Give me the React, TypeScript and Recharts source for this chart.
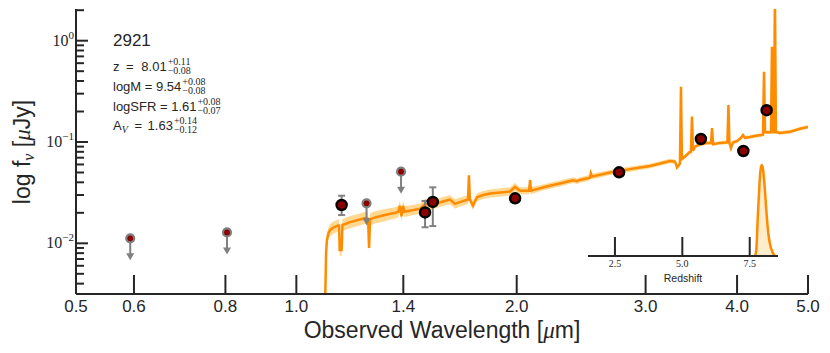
import React, { useLayoutEffect, useRef, useState } from 'react';
import {
    ComposedChart,
    AreaChart,
    Area,
    Line,
    Scatter,
    ErrorBar,
    XAxis,
    YAxis,
} from 'recharts';

// axis ticks
const xTicks = [0.5, 0.6, 0.8, 1.0, 1.4, 2.0, 3.0, 4.0, 5.0];
const xTickLabels = ['0.5', '0.6', '0.8', '1.0', '1.4', '2.0', '3.0', '4.0', '5.0'];
const yTicks = [
    0.004, 0.005, 0.006, 0.007, 0.008, 0.009, 0.01,
    0.02, 0.03, 0.04, 0.05, 0.06, 0.07, 0.08, 0.09, 0.1,
    0.2, 0.3, 0.4, 0.5, 0.6, 0.7, 0.8, 0.9, 1, 2,
];
const zTicks = [2.5, 5.0, 7.5];
const zTickLabels = ['2.5', '5.0', '7.5'];

// best-fit model: [wavelength um, flux uJy, 1-sigma spread in dex]
const sedModel: [number, number, number][] = [
    [1.094, 0.002, 0.06], [1.098, 0.008, 0.06], [1.101, 0.0108, 0.06],
    [1.106, 0.0125, 0.06], [1.112, 0.0135, 0.06], [1.122, 0.0142, 0.06],
    [1.140, 0.0150, 0.06], [1.144, 0.0150, 0.06], [1.146, 0.0086, 0.06],
    [1.153, 0.0086, 0.06], [1.156, 0.0152, 0.06], [1.166, 0.0155, 0.06],
    [1.184, 0.0162, 0.06], [1.214, 0.0170, 0.06], [1.241, 0.0178, 0.06],
    [1.253, 0.0175, 0.06], [1.257, 0.0090, 0.06], [1.261, 0.0172, 0.06],
    [1.281, 0.0180, 0.06], [1.321, 0.0190, 0.06], [1.364, 0.0200, 0.055],
    [1.378, 0.0205, 0.055], [1.385, 0.0235, 0.055], [1.392, 0.0185, 0.055],
    [1.399, 0.0235, 0.055], [1.405, 0.0205, 0.055], [1.430, 0.0210, 0.05],
    [1.476, 0.0220, 0.05], [1.499, 0.0245, 0.05], [1.523, 0.0235, 0.045],
    [1.561, 0.0250, 0.045], [1.596, 0.0262, 0.045], [1.621, 0.0270, 0.045],
    [1.647, 0.0245, 0.045], [1.673, 0.0255, 0.045], [1.700, 0.0265, 0.045],
    [1.716, 0.0270, 0.045], [1.721, 0.0470, 0.045], [1.726, 0.0270, 0.045],
    [1.743, 0.0236, 0.045], [1.765, 0.0285, 0.04], [1.799, 0.0300, 0.04],
    [1.839, 0.0310, 0.04], [1.916, 0.0320, 0.04], [1.958, 0.0325, 0.04],
    [1.989, 0.0360, 0.04], [2.021, 0.0330, 0.035], [2.053, 0.0330, 0.035],
    [2.079, 0.0330, 0.035], [2.086, 0.0420, 0.035], [2.092, 0.0330, 0.035],
    [2.105, 0.0335, 0.035], [2.152, 0.0350, 0.03], [2.220, 0.0370, 0.03],
    [2.291, 0.0390, 0.03], [2.388, 0.0420, 0.028], [2.418, 0.0410, 0.028],
    [2.441, 0.0422, 0.028], [2.519, 0.0445, 0.028], [2.525, 0.0490, 0.028],
    [2.534, 0.0455, 0.028], [2.682, 0.0500, 0.025], [2.856, 0.0540, 0.025],
    [3.042, 0.0580, 0.022], [3.239, 0.0650, 0.022], [3.291, 0.0640, 0.022],
    [3.311, 0.0560, 0.022], [3.342, 0.0610, 0.022], [3.353, 0.3500, 0.022],
    [3.363, 0.0680, 0.022], [3.396, 0.0720, 0.02], [3.450, 0.0800, 0.02],
    [3.460, 0.0800, 0.02], [3.471, 0.1780, 0.02], [3.482, 0.0820, 0.02],
    [3.505, 0.0900, 0.018], [3.561, 0.0950, 0.018], [3.628, 0.0975, 0.018],
    [3.685, 0.0980, 0.018], [3.697, 0.1370, 0.018], [3.709, 0.0950, 0.018],
    [3.791, 0.0980, 0.018], [3.880, 0.0990, 0.018], [3.893, 0.2320, 0.018],
    [3.905, 0.0980, 0.018], [3.924, 0.0870, 0.018], [3.949, 0.0990, 0.018],
    [3.999, 0.1020, 0.018], [4.050, 0.1100, 0.018], [4.075, 0.1170, 0.018],
    [4.100, 0.1100, 0.018], [4.165, 0.1120, 0.018], [4.246, 0.1150, 0.018],
    [4.313, 0.1170, 0.018], [4.340, 0.1180, 0.018], [4.354, 0.4940, 0.018],
    [4.368, 0.1250, 0.018], [4.395, 0.1250, 0.018], [4.451, 0.1250, 0.018],
    [4.464, 0.8730, 0.018], [4.478, 0.1250, 0.018], [4.492, 0.1250, 0.018],
    [4.506, 3.0, 0.018], [4.520, 0.1250, 0.018], [4.534, 0.1250, 0.018],
    [4.577, 0.1230, 0.018], [4.724, 0.1260, 0.018], [4.876, 0.1350, 0.018],
    [5.000, 0.1410, 0.018],
];

// photometry, detections
const detWave = [1.153, 1.499, 1.536, 1.99, 2.76, 3.57, 4.08, 4.39];
const detFlux = [0.0239, 0.0202, 0.0256, 0.0278, 0.0502, 0.107, 0.0815, 0.206];
const detErrLo = [0.0049, 0.0058, 0.0108, 0.0015, 0.002, 0.003, 0.003, 0.006];
const detErrHi = [0.0056, 0.006, 0.0101, 0.0015, 0.002, 0.003, 0.003, 0.006];

// photometry, upper limits
const limWave = [0.593, 0.804, 1.247, 1.39];
const limFlux = [0.0112, 0.0128, 0.0248, 0.0509];

// redshift posterior (peak normalised)
const pdfZ = [7.70, 7.745, 7.80, 7.845, 7.89, 7.94, 7.99, 8.04, 8.09, 8.14, 8.19, 8.26, 8.34, 8.44];
const pdfP = [0, 0.066, 0.43, 0.69, 0.91, 1.0, 0.96, 0.82, 0.615, 0.41, 0.25, 0.12, 0.047, 0];

const INK = '#262626';
const ORANGE = '#ff8c00';
const SANS = '"Liberation Sans", Arial, sans-serif';
const SERIF = '"Liberation Serif", "DejaVu Serif", serif';

const sedData = sedModel.map(([wave, flux, s]) => ({
    wave,
    flux,
    band: [flux / Math.pow(10, s), flux * Math.pow(10, s)],
}));
const detData = detWave.map((wave, i) => ({
    wave,
    flux: detFlux[i],
    err: [detErrLo[i], detErrHi[i]],
}));
const limData = limWave.map((wave, i) => ({ wave, flux: limFlux[i] }));
const pdfData = pdfZ.map((z, i) => ({ z, p: pdfP[i] }));

const isDecade = (v: number) => Math.abs(Math.log10(v) - Math.round(Math.log10(v))) < 1e-6;

const BottomTick = (props: any) => {
    const { x, y, payload } = props;
    const label = xTickLabels[xTicks.indexOf(payload.value)];
    return (
        <g>
            <line x1={x} y1={y} x2={x} y2={y - 19} stroke={INK} strokeWidth={2} />
            <text x={x} y={y + 18} textAnchor="middle" fontFamily={SANS} fontSize={17} fill={INK}>
                {label}
            </text>
        </g>
    );
};

const TopTick = (props: any) => {
    const { x, y } = props;
    return <line x1={x} y1={y} x2={x} y2={y + 19} stroke={INK} strokeWidth={2} />;
};

const LeftTick = (props: any) => {
    const { x, y, payload } = props;
    const major = isDecade(payload.value);
    const exp = Math.round(Math.log10(payload.value));
    return (
        <g>
            <line x1={x} y1={y} x2={x + (major ? 12 : 8)} y2={y} stroke={INK} strokeWidth={2} />
            {major && (
                <text x={x - 2} y={y + 5} textAnchor="end" fontFamily={SERIF} fontSize={16} fill={INK}>
                    10
                    <tspan dy={-7} fontSize={11}>{exp < 0 ? `\u2212${-exp}` : `${exp}`}</tspan>
                </text>
            )}
        </g>
    );
};

const RightTick = (props: any) => {
    const { x, y, payload } = props;
    const major = isDecade(payload.value);
    return <line x1={x} y1={y} x2={x - (major ? 12 : 8)} y2={y} stroke={INK} strokeWidth={2} />;
};

const InsetTick = (props: any) => {
    const { x, y, payload } = props;
    const label = zTickLabels[zTicks.indexOf(payload.value)];
    return (
        <g>
            <line x1={x} y1={y} x2={x} y2={y - 19} stroke={INK} strokeWidth={2} />
            <text x={x} y={y + 11} textAnchor="middle" fontFamily={SERIF} fontSize={10} fill={INK}>
                {label}
            </text>
        </g>
    );
};

const DetectionDot = (props: any) => {
    const { cx, cy } = props;
    return <circle cx={cx} cy={cy} r={5} fill="#8b0000" stroke="#000000" strokeWidth={2.5} />;
};

const LimitDot = (props: any) => {
    const { cx, cy } = props;
    return (
        <g>
            <line x1={cx} y1={cy} x2={cx} y2={cy + 16} stroke="#808080" strokeWidth={2} />
            <polygon points={`${cx - 4},${cy + 15} ${cx + 4},${cy + 15} ${cx},${cy + 22}`} fill="#808080" />
            <circle cx={cx} cy={cy} r={4} fill="#8b0000" stroke="#808080" strokeWidth={2.2} />
        </g>
    );
};

type ParamProps = { x: number; y: number; children: React.ReactNode; sup: string; sub: string };

const ParamLine = ({ x, y, children, sup, sub }: ParamProps) => {
    const ref = useRef<SVGTextElement>(null);
    const [end, setEnd] = useState(x);
    useLayoutEffect(() => {
        if (ref.current) {
            const b = ref.current.getBBox();
            setEnd(b.x + b.width);
        }
    }, []);
    return (
        <g>
            <text ref={ref} x={x} y={y} fontFamily={SANS} fontSize={13} fill={INK}>
                {children}
            </text>
            <text x={end + 1} y={y - 6.5} fontFamily={SERIF} fontSize={10} fill={INK}>{sup}</text>
            <text x={end + 1} y={y + 3} fontFamily={SERIF} fontSize={10} fill={INK}>{sub}</text>
        </g>
    );
};

export default function App() {
    return (
        <div style={{ position: 'absolute', left: 0, top: 0, width: 830, height: 353, background: '#fff' }}>
            <div style={{ position: 'absolute', left: 0, top: 0 }}>
                <ComposedChart width={830} height={353} margin={{ top: 9, right: 22, bottom: 0, left: 0 }}>
                    <XAxis
                        dataKey="wave"
                        type="number"
                        scale="log"
                        domain={[0.5, 5]}
                        allowDataOverflow
                        ticks={xTicks}
                        interval={0}
                        height={59}
                        tickSize={0}
                        tickMargin={0}
                        tickLine={false}
                        tick={(p: any) => <BottomTick {...p} />}
                        axisLine={{ stroke: INK, strokeWidth: 2 }}
                    />
                    <XAxis
                        xAxisId="top"
                        orientation="top"
                        type="number"
                        scale="log"
                        domain={[0.5, 5]}
                        allowDataOverflow
                        ticks={xTicks}
                        interval={0}
                        height={0}
                        tickSize={0}
                        tickMargin={0}
                        tickLine={false}
                        tick={(p: any) => <TopTick {...p} />}
                        axisLine={{ stroke: INK, strokeWidth: 2 }}
                    />
                    <YAxis
                        dataKey="flux"
                        type="number"
                        scale="log"
                        domain={[0.00316, 2.055]}
                        allowDataOverflow
                        ticks={yTicks}
                        interval={0}
                        width={76}
                        tickSize={0}
                        tickMargin={0}
                        tickLine={false}
                        tick={(p: any) => <LeftTick {...p} />}
                        axisLine={{ stroke: INK, strokeWidth: 2 }}
                    />
                    <YAxis
                        yAxisId="right"
                        orientation="right"
                        type="number"
                        scale="log"
                        domain={[0.00316, 2.055]}
                        allowDataOverflow
                        ticks={yTicks}
                        interval={0}
                        width={0}
                        tickSize={0}
                        tickMargin={0}
                        tickLine={false}
                        tick={(p: any) => <RightTick {...p} />}
                        axisLine={{ stroke: INK, strokeWidth: 2 }}
                    />
                    <Area
                        data={sedData}
                        dataKey="band"
                        type="linear"
                        stroke="none"
                        fill="#ffa500"
                        fillOpacity={0.42}
                        isAnimationActive={false}
                    />
                    <Line
                        data={sedData}
                        dataKey="flux"
                        type="linear"
                        stroke={ORANGE}
                        strokeWidth={2.5}
                        dot={false}
                        isAnimationActive={false}
                    />
                    <Scatter data={limData} dataKey="flux" shape={LimitDot} isAnimationActive={false} />
                    <Scatter data={detData} dataKey="flux" shape={DetectionDot} isAnimationActive={false}>
                        <ErrorBar
                            dataKey="err"
                            direction="y"
                            width={3.5}
                            stroke="#808080"
                            strokeWidth={2}
                            isAnimationActive={false}
                        />
                    </Scatter>
                </ComposedChart>
            </div>

            <div style={{ position: 'absolute', left: 588, top: 150 }}>
                <AreaChart width={190} height={135} data={pdfData} margin={{ top: 0, right: 0, bottom: 0, left: 0 }}>
                    <XAxis
                        dataKey="z"
                        type="number"
                        domain={[1.5, 8.55]}
                        allowDataOverflow
                        ticks={zTicks}
                        interval={0}
                        height={29}
                        tickSize={0}
                        tickMargin={0}
                        tickLine={false}
                        tick={(p: any) => <InsetTick {...p} />}
                        axisLine={{ stroke: INK, strokeWidth: 2 }}
                        label={{ value: 'Redshift', position: 'insideBottom', offset: 3, fontFamily: SANS, fontSize: 10.5, fill: INK }}
                    />
                    <YAxis hide domain={[0, 1.165]} allowDataOverflow />
                    <Area
                        dataKey="p"
                        type="monotone"
                        stroke={ORANGE}
                        strokeWidth={2.5}
                        fill="#ffa500"
                        fillOpacity={0.2}
                        isAnimationActive={false}
                    />
                </AreaChart>
            </div>

            <svg width={830} height={353} style={{ position: 'absolute', left: 0, top: 0, pointerEvents: 'none' }}>
                <text
                    x={30}
                    y={152}
                    transform="rotate(-90 30 152)"
                    textAnchor="middle"
                    fontFamily={SANS}
                    fontSize={23}
                    fill={INK}
                >
                    {'log f'}
                    <tspan fontFamily={SERIF} fontStyle="italic" fontSize={16} dy={4}>ν</tspan>
                    <tspan dy={-4}>{' ['}</tspan>
                    <tspan fontFamily={SERIF} fontStyle="italic">μ</tspan>
                    {'Jy]'}
                </text>
                <text x={442} y={338} textAnchor="middle" fontFamily={SANS} fontSize={23} fill={INK}>
                    {'Observed Wavelength ['}
                    <tspan fontFamily={SERIF} fontStyle="italic">μ</tspan>
                    {'m]'}
                </text>
                <text x={113} y={46} fontFamily={SANS} fontSize={17} fill={INK}>2921</text>
                <ParamLine x={113} y={71} sup="+0.11" sub={'\u22120.08'}>
                    {'z'}
                    <tspan dx={3}>{' ='}</tspan>
                    <tspan dx={4}>{' 8.01'}</tspan>
                </ParamLine>
                <ParamLine x={113} y={91} sup="+0.08" sub={'\u22120.08'}>{'logM = 9.54'}</ParamLine>
                <ParamLine x={113} y={111} sup="+0.08" sub={'\u22120.07'}>{'logSFR = 1.61'}</ParamLine>
                <ParamLine x={113} y={130} sup="+0.14" sub={'\u22120.12'}>
                    {'A'}
                    <tspan fontFamily={SERIF} fontStyle="italic" fontSize={10} dy={3}>V</tspan>
                    <tspan dy={-3} dx={3}>{' ='}</tspan>
                    <tspan dx={2}>{' 1.63'}</tspan>
                </ParamLine>
            </svg>
        </div>
    );
}
